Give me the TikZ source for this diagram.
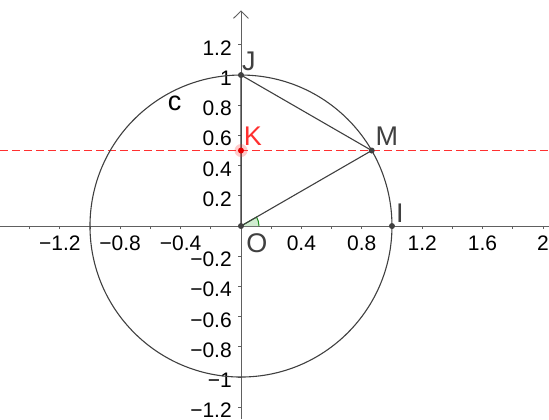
\documentclass[tikz,border=0pt]{standalone}
\usepackage{fontspec}
\setmainfont{Liberation Sans}
\definecolor{dgray}{HTML}{404040}
\definecolor{agray}{HTML}{606060}
\definecolor{angfill}{HTML}{D0ECD0}
\definecolor{anggreen}{HTML}{1E8C1E}
\definecolor{kred}{HTML}{FF3030}
\tikzset{
  axis/.style={agray, line width=0.9pt},
  seg/.style={dgray, line width=1.1pt},
  numlbl/.style={font=\fontsize{21}{21}\selectfont, inner sep=0pt},
  ptlbl/.style={font=\fontsize{27}{27}\selectfont, inner sep=0pt, anchor=base, text=dgray},
  pt/.style={circle, fill=dgray, inner sep=0pt, minimum size=6pt}
}
\begin{document}
\begin{tikzpicture}[x=151pt,y=151pt]
\useasboundingbox (-1.596,-1.278) rectangle (2.040,1.497);
% axes
\draw[axis] (-1.596,0) -- (2.040,0);
\draw[axis] (0,-1.278) -- (0,1.424);
\coordinate (atip) at (0,1.424);
\coordinate (al) at (-0.05,1.375);
\coordinate (ar) at (0.05,1.375);
\draw[axis] (al) -- (atip) -- (ar);
% ticks
\foreach \v in {-1.4,-1.2,...,-0.1,0.2,0.4,...,2.01}
  \draw[axis] (\v,0) -- ++(0,-3pt);
\foreach \v in {-1.2,-1.0,...,-0.1,0.2,0.4,...,1.21}
  \draw[axis] (0,\v) -- ++(-3pt,0);
% x labels
\foreach \v/\t in {-1.2/−1.2,-0.8/−0.8,-0.4/−0.4,0.4/0.4,0.8/0.8,1.2/1.2,1.6/1.6,2/2}
  \node[numlbl, anchor=base] at (\v,-0.159) {\t};
% y labels
\foreach \v/\t in {1.2/1.2,1/1,0.8/0.8,0.6/0.6,0.4/0.4,0.2/0.2,-0.2/−0.2,-0.4/−0.4,-0.6/−0.6,-0.8/−0.8,-1/−1,-1.2/−1.2}
  \node[numlbl, anchor=base east] at (-0.06,\v-0.0695) {\t};
% dashed line y=0.5
\coordinate (dl) at (-1.596,0.5);
\coordinate (dr) at (2.040,0.5);
\draw[kred, line width=1pt, dash pattern=on 8pt off 4pt] (dl) -- (dr);
% angle marker
\coordinate (O) at (0,0);
\fill[angfill] (O) -- (18pt,0) arc (0:30:18pt) -- cycle;
\draw[anggreen, line width=1pt] (18pt,0) arc (0:30:18pt) -- (O);
% circle
\draw[seg] (O) circle (1);
% points
\coordinate (J) at (0,1);
\coordinate (M) at (0.8660,0.5);
\coordinate (I) at (1,0);
\coordinate (K) at (0,0.5);
\draw[seg] (O) -- (J) -- (M) -- (O);
\node[pt] (pO) at (O) {};
\node[pt] (pJ) at (J) {};
\node[pt] (pM) at (M) {};
\node[pt] (pI) at (I) {};
\node[circle, fill=kred, fill opacity=0.25, inner sep=0pt, minimum size=13pt] (hK) at (K) {};
\node[circle, fill=red!90!black, inner sep=0pt, minimum size=6pt] (pK) at (K) {};
% labels
\node[ptlbl] (lJ) at (0.053,1.033) {J};
\node[ptlbl] (lM) at (0.967,0.536) {M};
\node[ptlbl] (lI) at (1.053,0.026) {I};
\node[ptlbl, text=kred] (lK) at (0.079,0.536) {K};
\node[ptlbl] (lO) at (0.106,-0.172) {O};
\node[ptlbl, text=black] (lc) at (-0.44,0.768) {c};
\end{tikzpicture}
\end{document}
